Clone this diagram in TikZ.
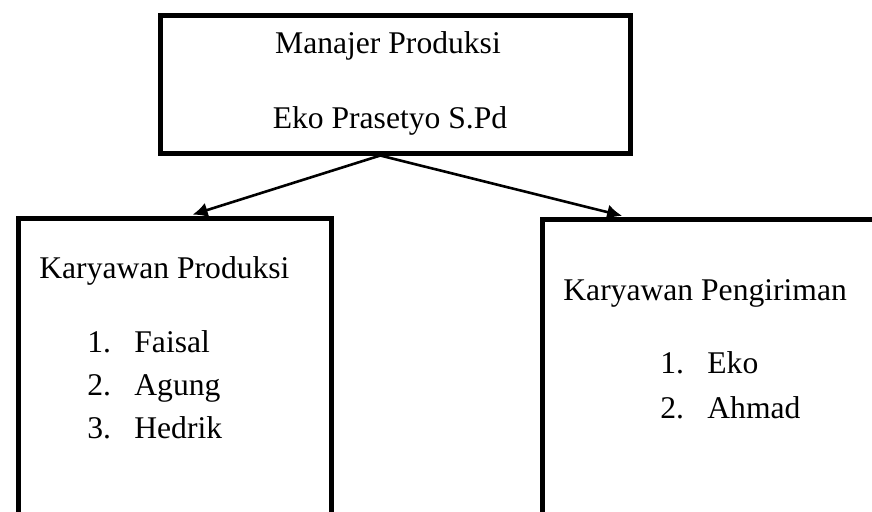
\documentclass[tikz,border=0pt]{standalone}
\usepackage{fontspec}
\setmainfont{Liberation Serif}
\usetikzlibrary{calc, arrows.meta}
\tikzstyle{box}=[draw, line width=2.5pt, fill=white, rectangle, anchor=north west, inner sep=0pt]
\tikzstyle{txt}=[anchor=base west, inner sep=0pt, font=\fontsize{15.8}{19}\selectfont]
\tikzstyle{mid}=[txt, anchor=base]
\tikzstyle{link}=[->, line width=1.3pt, shorten >=1.5pt]

\begin{document}
\begin{tikzpicture}[x=0.5pt,y=-0.5pt,>={Latex[length=7.5pt,width=7.5pt]}]
      \useasboundingbox (0,0) rectangle (872,511);
      \clip (0,0) rectangle (872,511);
      % boxes
      \node [box, minimum width=235pt, minimum height=69pt] (mgr) at (157.5,12.5) {};
      \node [box, minimum width=156.5pt, minimum height=200pt] (prod) at (15.5,215.5) {};
      \node [box, minimum width=200pt, minimum height=200pt] (kirim) at (539.5,216.5) {};
      % manager
      \node [mid] (mgrtitle) at (388,53) {Manajer Produksi};
      \node [mid] (mgrname) at (390,128) {Eko Prasetyo S.Pd};
      % produksi
      \node [txt] (prodtitle) at (39,278) {Karyawan Produksi};
      \node [txt] (p1) at (87,352) {1.};
      \node [txt] (p2) at (87,395) {2.};
      \node [txt] (p3) at (87,438) {3.};
      \node [txt] (faisal) at (134,352) {Faisal};
      \node [txt] (agung) at (134,395) {Agung};
      \node [txt] (hedrik) at (134,438) {Hedrik};
      % pengiriman
      \node [txt] (kirimtitle) at (563,300) {Karyawan Pengiriman};
      \node [txt] (k1) at (660,373) {1.};
      \node [txt] (k2) at (660,418) {2.};
      \node [txt] (eko) at (707,373) {Eko};
      \node [txt] (ahmad) at (707,418) {Ahmad};
      % links
      \coordinate (split) at ($(mgr.south west)!0.469!(mgr.south east)$);
      \coordinate (toprod) at ($(prod.north west)!0.548!(prod.north east)$);
      \coordinate (tokirim) at ($(kirim.north west)+(85.5,0)$);
      \draw[link] (split) -- (toprod);
      \draw[link] (split) -- (tokirim);
  \end{tikzpicture}
\end{document}
